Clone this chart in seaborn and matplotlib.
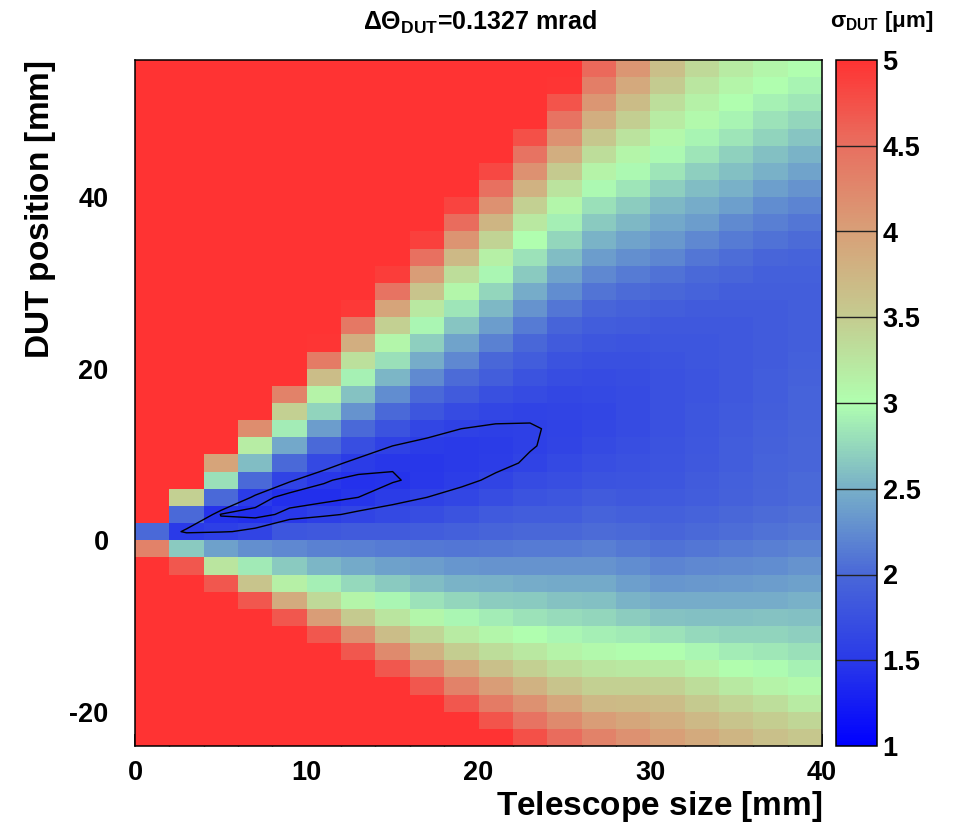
import numpy as np
import pandas as pd
import matplotlib
matplotlib.use("Agg")
import matplotlib.pyplot as plt
import seaborn as sns
from matplotlib.colors import LinearSegmentedColormap

# ---------------- data ----------------
# bin centres [mm]
telescope_size = [1, 3, 5, 7, 9, 11, 13, 15, 17, 19, 21, 23, 25, 27, 29, 31, 33, 35, 37, 39]
dut_position = [-23, -21, -19, -17, -15, -13, -11, -9, -7, -5, -3, -1, 1, 3, 5, 7, 9, 11, 13, 15,
                17, 19, 21, 23, 25, 27, 29, 31, 33, 35, 37, 39, 41, 43, 45, 47, 49, 51, 53, 55]

# sigma_DUT [um] per telescope-size column, from DUT position -23 (first) to 55 (last)
sigma_L01 = [5, 5, 5, 5, 5, 5, 5, 5, 5, 5, 5, 4.3, 2.0, 5, 5, 5, 5, 5, 5, 5,
             5, 5, 5, 5, 5, 5, 5, 5, 5, 5, 5, 5, 5, 5, 5, 5, 5, 5, 5, 5]
sigma_L03 = [5, 5, 5, 5, 5, 5, 5, 5, 5, 5, 4.7, 2.66, 1.5, 2.0, 3.46, 5, 5, 5, 5, 5,
             5, 5, 5, 5, 5, 5, 5, 5, 5, 5, 5, 5, 5, 5, 5, 5, 5, 5, 5, 5]
sigma_L05 = [5, 5, 5, 5, 5, 5, 5, 5, 5, 4.7, 3.25, 2.4, 1.56, 1.45, 2.0, 2.8, 3.95, 5, 5, 5,
             5, 5, 5, 5, 5, 5, 5, 5, 5, 5, 5, 5, 5, 5, 5, 5, 5, 5, 5, 5]
sigma_L07 = [5, 5, 5, 5, 5, 5, 5, 5, 4.7, 3.59, 2.86, 2.28, 1.62, 1.42, 1.52, 2.0, 2.58, 3.18, 4.19, 5,
             5, 5, 5, 5, 5, 5, 5, 5, 5, 5, 5, 5, 5, 5, 5, 5, 5, 5, 5, 5]
sigma_L09 = [5, 5, 5, 5, 5, 5, 5, 4.7, 3.87, 3.15, 2.66, 2.22, 1.80, 1.49, 1.41, 1.60, 2.0, 2.44, 2.88, 3.46,
             4.31, 5, 5, 5, 5, 5, 5, 5, 5, 5, 5, 5, 5, 5, 5, 5, 5, 5, 5, 5]
sigma_L11 = [5, 5, 5, 5, 5, 5, 4.7, 4.03, 3.37, 2.9, 2.54, 2.18, 1.84, 1.55, 1.42, 1.47, 1.66, 2.0, 2.36, 2.72,
             3.12, 3.67, 4.39, 4.97, 5, 5, 5, 5, 5, 5, 5, 5, 5, 5, 5, 5, 5, 5, 5, 5]
sigma_L13 = [5, 5, 5, 5, 5, 4.7, 4.15, 3.52, 3.1, 2.76, 2.46, 2.16, 1.86, 1.61, 1.46, 1.43, 1.52, 1.72, 2.0, 2.3,
             2.62, 2.92, 3.31, 3.83, 4.42, 4.94, 5, 5, 5, 5, 5, 5, 5, 5, 5, 5, 5, 5, 5, 5]
sigma_L15 = [5, 5, 5, 5, 4.7, 4.23, 3.67, 3.25, 2.94, 2.66, 2.4, 2.14, 1.87, 1.66, 1.52, 1.45, 1.47, 1.58, 1.77, 2.0,
             2.26, 2.54, 2.8, 3.08, 3.46, 3.95, 4.46, 4.91, 5, 5, 5, 5, 5, 5, 5, 5, 5, 5, 5, 5]
sigma_L17 = [5, 5, 5, 4.7, 4.27, 3.79, 3.4, 3.08, 2.82, 2.58, 2.36, 2.12, 1.89, 1.71, 1.58, 1.49, 1.47, 1.53, 1.64, 1.8,
             2.0, 2.24, 2.48, 2.7, 2.94, 3.22, 3.59, 4.03, 4.49, 4.88, 5, 5, 5, 5, 5, 5, 5, 5, 5, 5]
sigma_L19 = [5, 5, 4.7, 4.31, 3.91, 3.49, 3.2, 2.94, 2.74, 2.52, 2.32, 2.1, 1.91, 1.77, 1.64, 1.54, 1.5, 1.51, 1.58, 1.7,
             1.86, 2.02, 2.22, 2.42, 2.64, 2.84, 3.08, 3.34, 3.71, 4.11, 4.53, 4.85, 5, 5, 5, 5, 5, 5, 5, 5]
sigma_L21 = [5, 4.73, 4.39, 4.03, 3.63, 3.34, 3.08, 2.88, 2.68, 2.5, 2.3, 2.12, 1.96, 1.85, 1.71, 1.61, 1.54, 1.52, 1.56, 1.63,
             1.74, 1.9, 1.99, 2.18, 2.36, 2.56, 2.74, 2.94, 3.15, 3.43, 3.75, 4.15, 4.49, 4.82, 5, 5, 5, 5, 5, 5]
sigma_L23 = [4.76, 4.46, 4.15, 3.79, 3.46, 3.22, 3.0, 2.82, 2.66, 2.48, 2.3, 2.14, 1.99, 1.88, 1.78, 1.69, 1.6, 1.57, 1.57, 1.6,
             1.69, 1.78, 1.88, 1.99, 2.14, 2.3, 2.48, 2.66, 2.82, 3.0, 3.22, 3.46, 3.79, 4.15, 4.46, 4.76, 5, 5, 5, 5]
sigma_L25 = [4.53, 4.23, 3.91, 3.59, 3.34, 3.12, 2.94, 2.78, 2.62, 2.46, 2.3, 2.14, 1.99, 1.89, 1.8, 1.72, 1.66, 1.62, 1.6, 1.61,
             1.65, 1.71, 1.78, 1.87, 1.96, 2.1, 2.26, 2.42, 2.58, 2.74, 2.9, 3.08, 3.28, 3.52, 3.83, 4.15, 4.46, 4.73, 4.97, 5]
sigma_L27 = [4.31, 4.03, 3.71, 3.46, 3.25, 3.05, 2.9, 2.74, 2.6, 2.46, 2.3, 2.17, 2.03, 1.94, 1.86, 1.77, 1.72, 1.68, 1.65, 1.64,
             1.66, 1.69, 1.74, 1.8, 1.89, 1.98, 2.08, 2.22, 2.36, 2.52, 2.66, 2.8, 2.96, 3.12, 3.34, 3.55, 3.83, 4.1, 4.35, 4.55]
sigma_L29 = [4.15, 3.93, 3.69, 3.46, 3.23, 3.03, 2.86, 2.68, 2.53, 2.39, 2.25, 2.12, 2.0, 1.92, 1.84, 1.79, 1.75, 1.72, 1.7, 1.69,
             1.69, 1.71, 1.74, 1.79, 1.86, 1.93, 2.02, 2.14, 2.28, 2.42, 2.55, 2.68, 2.83, 2.96, 3.1, 3.27, 3.48, 3.68, 3.9, 4.1]
sigma_L31 = [4.0, 3.84, 3.66, 3.45, 3.21, 3.01, 2.82, 2.62, 2.47, 2.32, 2.19, 2.07, 1.98, 1.91, 1.85, 1.81, 1.79, 1.77, 1.75, 1.75,
             1.75, 1.76, 1.77, 1.8, 1.84, 1.9, 1.99, 2.07, 2.21, 2.34, 2.44, 2.56, 2.7, 2.83, 2.96, 3.07, 3.2, 3.32, 3.5, 3.65]
sigma_L33 = [3.88, 3.71, 3.53, 3.33, 3.11, 2.94, 2.75, 2.6, 2.47, 2.34, 2.22, 2.1, 2.01, 1.95, 1.89, 1.86, 1.84, 1.82, 1.81, 1.8,
             1.79, 1.79, 1.8, 1.81, 1.83, 1.87, 1.94, 2.01, 2.1, 2.22, 2.36, 2.47, 2.58, 2.7, 2.83, 2.93, 3.05, 3.14, 3.24, 3.37]
sigma_L35 = [3.75, 3.58, 3.41, 3.21, 3.02, 2.89, 2.73, 2.6, 2.47, 2.35, 2.24, 2.13, 2.04, 1.99, 1.93, 1.92, 1.89, 1.88, 1.86, 1.85,
             1.84, 1.84, 1.83, 1.84, 1.84, 1.86, 1.9, 1.97, 2.04, 2.14, 2.24, 2.38, 2.5, 2.6, 2.71, 2.83, 2.93, 3.01, 3.1, 3.19]
sigma_L37 = [3.64, 3.49, 3.32, 3.12, 2.98, 2.85, 2.72, 2.61, 2.48, 2.37, 2.26, 2.17, 2.07, 2.02, 1.97, 1.96, 1.94, 1.93, 1.91, 1.9,
             1.89, 1.88, 1.87, 1.87, 1.87, 1.87, 1.9, 1.92, 1.98, 2.07, 2.17, 2.26, 2.39, 2.51, 2.6, 2.72, 2.82, 2.92, 3.0, 3.08]
sigma_L39 = [3.55, 3.4, 3.2, 3.05, 2.92, 2.8, 2.7, 2.6, 2.5, 2.4, 2.3, 2.2, 2.1, 2.05, 2.0, 2.0, 1.98, 1.97, 1.96, 1.95,
             1.95, 1.93, 1.92, 1.9, 1.9, 1.9, 1.9, 1.92, 1.95, 2.02, 2.1, 2.2, 2.3, 2.42, 2.53, 2.63, 2.74, 2.85, 2.93, 3.0]

x_tick_values = [0, 10, 20, 30, 40]
y_tick_values = [-20, 0, 20, 40]
cbar_tick_values = [1, 1.5, 2, 2.5, 3, 3.5, 4, 4.5, 5]
cbar_tick_labels = ["1", "1.5", "2", "2.5", "3", "3.5", "4", "4.5", "5"]
palette_levels = [1.0, 1.5, 2.0, 2.5, 3.0, 3.5, 4.0, 4.5, 5.0]
palette_colors = ["#0000ff", "#2a3ae8", "#4a68d8", "#78b0c8", "#b0ffb0",
                  "#c4cc90", "#d8a078", "#e87060", "#ff3333"]
contour_levels = [1.46, 1.58]

columns = [sigma_L01, sigma_L03, sigma_L05, sigma_L07, sigma_L09, sigma_L11, sigma_L13,
           sigma_L15, sigma_L17, sigma_L19, sigma_L21, sigma_L23, sigma_L25, sigma_L27,
           sigma_L29, sigma_L31, sigma_L33, sigma_L35, sigma_L37, sigma_L39]
assert all(len(c) == len(dut_position) for c in columns), [len(c) for c in columns]

# ---------------- styling ----------------
sns.set_theme(style="white")
plt.rcParams["font.family"] = ["Liberation Sans", "DejaVu Sans"]
plt.rcParams["mathtext.fontset"] = "custom"
plt.rcParams["mathtext.rm"] = "Liberation Sans"
plt.rcParams["mathtext.it"] = "Liberation Sans:italic"
plt.rcParams["mathtext.bf"] = "Liberation Sans:bold"
plt.rcParams["mathtext.default"] = "regular"
plt.rcParams["text.color"] = "black"
plt.rcParams["axes.labelcolor"] = "black"
plt.rcParams["xtick.color"] = "black"
plt.rcParams["ytick.color"] = "black"

grid = pd.DataFrame(np.array(columns, dtype=float).T, index=dut_position, columns=telescope_size)
grid_top_down = grid.iloc[::-1]

W, H = 955, 830
fig = plt.figure(figsize=(W / 100, H / 100), dpi=100)
ax = fig.add_axes([135 / W, 84 / H, 687 / W, 686 / H])
cax = fig.add_axes([836 / W, 84 / H, 41 / W, 686 / H])

cmap = LinearSegmentedColormap.from_list(
    "root_palette",
    list(zip([(v - palette_levels[0]) / (palette_levels[-1] - palette_levels[0]) for v in palette_levels],
             palette_colors)))

sns.heatmap(grid_top_down, ax=ax, cmap=cmap, vmin=palette_levels[0], vmax=palette_levels[-1],
            cbar_ax=cax, xticklabels=False, yticklabels=False, linewidths=0)

# contour lines on the bin centres
n_rows, n_cols = grid_top_down.shape
ax.contour(np.arange(n_cols) + 0.5, np.arange(n_rows) + 0.5, grid_top_down.values,
           levels=contour_levels, colors="black", linewidths=1.0)

# map data coordinates to heatmap cell coordinates
dx = telescope_size[1] - telescope_size[0]
x_edge0 = telescope_size[0] - dx / 2
dz = dut_position[1] - dut_position[0]
z_top = dut_position[-1] + dz / 2


def to_hx(v):
    return (v - x_edge0) / dx


def to_hy(v):
    return (z_top - v) / dz


ax.set_xticks([to_hx(v) for v in x_tick_values])
ax.set_xticklabels([str(v) for v in x_tick_values])
ax.set_xticks([to_hx(v) for v in np.arange(0, 41, 2)], minor=True)
ax.set_yticks([to_hy(v) for v in y_tick_values])
ax.set_yticklabels([str(v) for v in y_tick_values])
ax.set_yticks([to_hy(v) for v in np.arange(-20, 56, 5)], minor=True)
ax.set_xlim(0, n_cols)
ax.set_ylim(n_rows, 0)

ax.tick_params(axis="both", which="major", direction="in", length=8.5, width=1.1,
               color="black", labelsize=19.5, labelcolor="black",
               bottom=True, left=True, top=False, right=False)
ax.tick_params(axis="both", which="minor", direction="in", length=4.5, width=1.0,
               color="black", bottom=True, left=True, top=False, right=False)
ax.tick_params(axis="x", which="major", pad=10)
ax.tick_params(axis="y", which="major", pad=19)
for lab in ax.get_xticklabels() + ax.get_yticklabels():
    lab.set_fontweight("bold")
    lab.set_color("black")
for s in ax.spines.values():
    s.set_visible(True)
    s.set_color("black")
    s.set_linewidth(1.1)
ax.set_xlabel("")
ax.set_ylabel("")

# colour bar
cb = ax.collections[0].colorbar
cb.set_ticks(cbar_tick_values)
cb.set_ticklabels(cbar_tick_labels)
cax.tick_params(axis="y", length=0, pad=4, labelsize=19.5, labelcolor="black", right=True, left=False)
for lab in cax.get_yticklabels():
    lab.set_fontweight("bold")
    lab.set_color("black")
for v in cbar_tick_values[1:-1]:
    cax.axhline(v, color="#222222", linewidth=1.0)
cb.outline.set_visible(True)
cb.outline.set_edgecolor("black")
cb.outline.set_linewidth(1.1)

# texts
fig.text(480 / W, 1 - 22 / H, r"$\Delta\Theta_{\mathbf{DUT}}$=0.1327 mrad",
         ha="center", va="center", fontsize=18, fontweight="bold", color="black")
fig.text(882 / W, 1 - 22 / H, r"$\sigma_{\mathbf{DUT}}$ $[\mu$m$]$",
         ha="center", va="center", fontsize=16, fontweight="bold", color="black")
fig.text(822 / W, 1 - 806 / H, r"Telescope size $[$mm$]$",
         ha="right", va="center", fontsize=24, fontweight="bold", color="black")
fig.text(40 / W, 1 - 61 / H, r"DUT position $[$mm$]$", rotation=90,
         ha="center", va="top", fontsize=24, fontweight="bold", color="black")

fig.savefig("out.png", dpi=100)
